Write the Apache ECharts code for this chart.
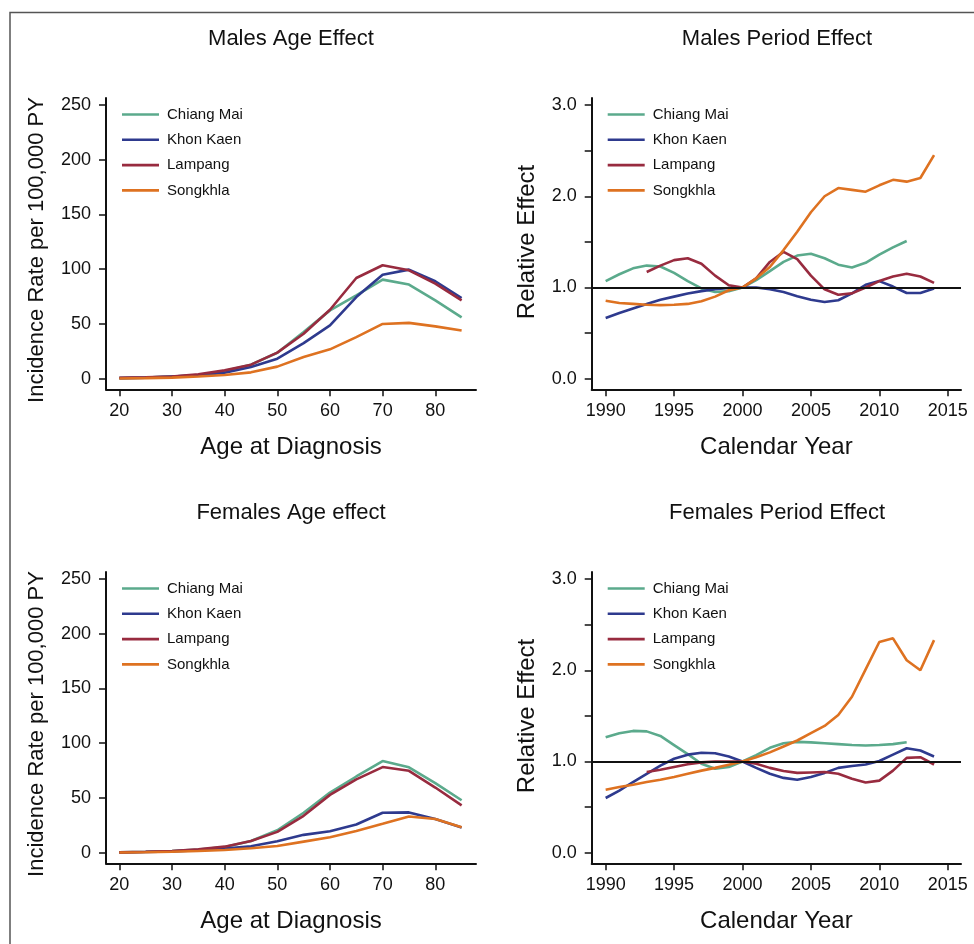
<!DOCTYPE html>
<html>
<head>
<meta charset="utf-8">
<script src="https://cdn.jsdelivr.net/npm/echarts@6/dist/echarts.min.js"></script>
<style>
html,body{margin:0;padding:0;background:#fff;}
#chart{width:974px;height:944px;}
</style>
</head>
<body>
<div id="chart"></div>
<script>
// ---------- data ----------
const regions = ['Chiang Mai', 'Khon Kaen', 'Lampang', 'Songkhla'];
const ages = [20, 25, 30, 35, 40, 45, 50, 55, 60, 65, 70, 75, 80, 85];
const years = [1990,1991,1992,1993,1994,1995,1996,1997,1998,1999,2000,2001,2002,2003,2004,2005,2006,2007,2008,2009,2010,2011,2012,2013,2014];

const maleAgeChiangMai = [0.5, 1, 2, 3, 7, 12.8, 23.7, 42.6, 62.4, 76, 90.5, 86, 71.5, 56];
const maleAgeKhonKaen  = [0.5, 1, 2, 3, 5.5, 10.6, 18.3, 32.5, 48.7, 74.6, 95, 99.6, 89, 73.7];
const maleAgeLampang   = [0.8, 1.2, 2, 4, 7.6, 12.8, 23.8, 41, 63, 92, 103.6, 99, 86.8, 71.6];
const maleAgeSongkhla  = [0.2, 0.5, 1, 2, 3.3, 5.8, 11, 19.8, 26.8, 38, 50, 51, 47.8, 44];

const femaleAgeChiangMai = [0.3, 0.8, 1.5, 2.8, 5.2, 10.7, 20.5, 36.5, 54.9, 69.6, 83.7, 78, 63.5, 47.9];
const femaleAgeKhonKaen  = [0.3, 0.6, 1.2, 2.2, 3.7, 5.8, 10.4, 16.3, 19.6, 25.8, 36.5, 36.8, 30.7, 23];
const femaleAgeLampang   = [0.3, 0.8, 1.5, 3, 5.5, 10.7, 19, 33.7, 52.8, 67, 78.2, 74.8, 59.5, 43.2];
const femaleAgeSongkhla  = [0.2, 0.4, 0.8, 1.5, 2.5, 4, 6.1, 10.1, 14.1, 19.9, 26.4, 33.1, 30.7, 23.3];

const malePeriodChiangMai = [1.07,1.145,1.21,1.24,1.23,1.16,1.07,0.99,0.95,0.96,1.0,1.08,1.18,1.28,1.35,1.37,1.32,1.25,1.22,1.27,1.36,1.44,1.51,null,null];
const malePeriodKhonKaen  = [0.665,0.72,0.77,0.82,0.865,0.9,0.935,0.96,0.98,0.995,1.0,1.0,0.98,0.95,0.905,0.865,0.84,0.86,0.935,1.03,1.07,1.01,0.94,0.94,0.99];
const malePeriodLampang   = [null,null,null,1.17,1.24,1.30,1.32,1.26,1.13,1.025,1.0,1.10,1.28,1.39,1.31,1.13,0.98,0.92,0.935,1.0,1.07,1.12,1.15,1.12,1.05];
const malePeriodSongkhla  = [0.855,0.83,0.82,0.81,0.807,0.81,0.82,0.85,0.90,0.97,1.0,1.10,1.225,1.41,1.61,1.825,2.0,2.09,2.07,2.05,2.12,2.18,2.16,2.20,2.45];

const femalePeriodChiangMai = [1.265,1.31,1.335,1.33,1.28,1.18,1.08,0.975,0.92,0.94,1.0,1.07,1.15,1.20,1.215,1.21,1.20,1.19,1.18,1.175,1.18,1.19,1.21,null,null];
const femalePeriodKhonKaen  = [0.60,0.68,0.775,0.865,0.955,1.03,1.075,1.095,1.09,1.055,1.0,0.93,0.865,0.82,0.80,0.83,0.875,0.93,0.95,0.967,1.005,1.075,1.145,1.12,1.055];
const femalePeriodLampang   = [null,null,null,0.885,0.91,0.94,0.97,0.99,1.0,1.0,1.0,0.975,0.93,0.895,0.875,0.88,0.885,0.865,0.81,0.77,0.79,0.90,1.04,1.047,0.967];
const femalePeriodSongkhla  = [0.69,0.72,0.745,0.775,0.80,0.83,0.865,0.90,0.93,0.965,1.0,1.047,1.10,1.165,1.23,1.31,1.39,1.51,1.71,2.01,2.31,2.35,2.11,2.0,2.33];

const ageTicks = [20, 30, 40, 50, 60, 70, 80];
const rateTicks = [0, 50, 100, 150, 200, 250];
const yearTicks = [1990, 1995, 2000, 2005, 2010, 2015];
const effectLabels = [0, 1, 2, 3];
const effectTicks = [0, 0.5, 1, 1.5, 2, 2.5, 3];

const panelTitles = ['Males Age Effect', 'Males Period Effect', 'Females Age effect', 'Females Period Effect'];
const xNames = ['Age at Diagnosis', 'Calendar Year', 'Age at Diagnosis', 'Calendar Year'];
const yNames = ['Incidence Rate per 100,000 PY', 'Relative Effect', 'Incidence Rate per 100,000 PY', 'Relative Effect'];

// ---------- styling ----------
const colors = ['#5BAA8C', '#2E3A8E', '#982B3F', '#DE7221'];
const FONT = "'Liberation Sans', Arial, sans-serif";
const INK = '#111';

const grids = [
  {left: 106, top: 98, width: 370, height: 291.3},
  {left: 591.7, top: 98, width: 369.3, height: 291.3},
  {left: 106, top: 572, width: 370, height: 291.3},
  {left: 591.7, top: 572, width: 369.3, height: 291.3}
];

function axisCommon() {
  return {
    axisLine: {show: true, onZero: false, lineStyle: {color: INK, width: 2}},
    splitLine: {show: false},
    nameTextStyle: {fontSize: 24, color: INK, fontFamily: FONT}
  };
}

const xAxes = [], yAxes = [];
[0, 1, 2, 3].forEach(i => {
  const isAge = (i % 2 === 0);
  xAxes.push(Object.assign(axisCommon(), {
    gridIndex: i, type: 'value',
    min: isAge ? 17.47 : 1988.98,
    max: isAge ? 87.73 : 2015.97,
    axisTick: {show: true, length: 7, lineStyle: {color: INK, width: 1.5}, customValues: isAge ? ageTicks : yearTicks},
    axisLabel: {customValues: isAge ? ageTicks : yearTicks, margin: 13, fontSize: 18, color: INK, fontFamily: FONT,
      formatter: v => String(v)},
    name: xNames[i],
    nameLocation: 'middle', nameGap: 46
  }));
  yAxes.push(Object.assign(axisCommon(), {
    gridIndex: i, type: 'value',
    min: isAge ? -9.7 : -0.116,
    max: isAge ? 256.4 : 3.077,
    axisTick: {show: true, length: 7, lineStyle: {color: INK, width: 1.5}, customValues: isAge ? rateTicks : effectTicks},
    axisLabel: {customValues: isAge ? rateTicks : effectLabels, margin: 15, fontSize: 18, color: INK, fontFamily: FONT,
      formatter: isAge ? (v => String(v)) : (v => v.toFixed(1))},
    name: ''
  }));
});

function pairs(xs, ys) { return xs.map((x, k) => [x, ys[k]]); }

const panelData = [
  [maleAgeChiangMai, maleAgeKhonKaen, maleAgeLampang, maleAgeSongkhla],
  [malePeriodChiangMai, malePeriodKhonKaen, malePeriodLampang, malePeriodSongkhla],
  [femaleAgeChiangMai, femaleAgeKhonKaen, femaleAgeLampang, femaleAgeSongkhla],
  [femalePeriodChiangMai, femalePeriodKhonKaen, femalePeriodLampang, femalePeriodSongkhla]
];

const series = [];
panelData.forEach((arrs, i) => {
  const xs = (i % 2 === 0) ? ages : years;
  arrs.forEach((ys, j) => {
    const s = {
      type: 'line', name: regions[j], xAxisIndex: i, yAxisIndex: i,
      data: pairs(xs, ys), showSymbol: false, symbol: 'none',
      connectNulls: false, smooth: false,
      lineStyle: {color: colors[j], width: 2.6}, itemStyle: {color: colors[j]},
      z: 3 + j
    };
    if (i % 2 === 1 && j === 0) {
      s.markLine = {silent: true, symbol: 'none', label: {show: false},
        lineStyle: {color: INK, width: 2, type: 'solid'}, data: [{yAxis: 1}], z: 10};
    }
    series.push(s);
  });
});

const legends = grids.map((g, i) => ({
  orient: 'vertical', left: g.left + 16, top: g.top + 9, padding: 0,
  itemWidth: 37, itemHeight: 14, itemGap: 10.3,
  icon: 'path://M0,6 L37,6 L37,8.6 L0,8.6 Z',
  textStyle: {fontSize: 15, color: INK, fontFamily: FONT, lineHeight: 14, padding: [0, 0, 0, 3]},
  data: regions.map((r, j) => ({name: r, itemStyle: {color: colors[j]}})),
  selectedMode: false
}));

const titleCenters = [[291, 39], [777, 39], [291, 513], [777, 513]];
const yNameCenters = [[37, 250], [527, 242], [37, 724], [527, 716]];
const graphics = [
  {type: 'rect', shape: {x: 10, y: 12.5, width: 1000, height: 1000},
   style: {fill: 'none', stroke: '#555', lineWidth: 1.5}, silent: true, z: 0}
];
panelTitles.forEach((t, i) => {
  graphics.push({type: 'text', x: titleCenters[i][0], y: titleCenters[i][1],
    style: {text: t, textAlign: 'center', textVerticalAlign: 'middle', fontSize: 22, fontFamily: FONT, fill: INK}});
});
yNames.forEach((t, i) => {
  graphics.push({type: 'text', x: yNameCenters[i][0], y: yNameCenters[i][1], rotation: Math.PI / 2,
    style: {text: t, textAlign: 'center', textVerticalAlign: 'middle', fontSize: i % 2 === 0 ? 22 : 24, fontFamily: FONT, fill: INK}});
});

const chart = echarts.init(document.getElementById('chart'), null, {renderer: 'canvas'});
chart.setOption({
  animation: false,
  backgroundColor: '#fff',
  textStyle: {fontFamily: FONT},
  grid: grids,
  xAxis: xAxes,
  yAxis: yAxes,
  legend: legends,
  series: series,
  graphic: graphics
});
</script>
</body>
</html>
